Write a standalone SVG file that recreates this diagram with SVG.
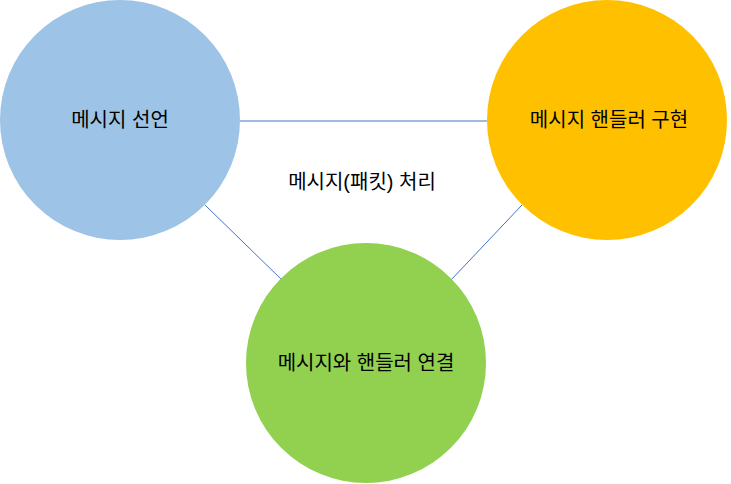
<svg xmlns="http://www.w3.org/2000/svg" width="731" height="484" viewBox="0 0 731 484">
<style>
text{font-family:"Liberation Sans","Noto Sans CJK KR",sans-serif;font-size:20px;fill:#000;text-anchor:middle;dominant-baseline:central}
line{stroke:#4472C4;stroke-width:1}
</style>
<rect width="731" height="484" fill="#fff"/>
<g id="connectors">
<line x1="240" y1="121" x2="487" y2="121"/>
<line x1="205" y1="205" x2="282" y2="280"/>
<line x1="522" y1="205" x2="451" y2="280"/>
</g>
<g id="n1"><circle cx="120" cy="120" r="120" fill="#9DC3E6"/><text x="120" y="120">메시지 선언</text></g>
<g id="n2"><circle cx="607" cy="120" r="120" fill="#FFC000"/><text x="609" y="120">메시지 핸들러 구현</text></g>
<g id="n3"><circle cx="366" cy="363" r="120" fill="#92D050"/><text x="366" y="363">메시지와 핸들러 연결</text></g>
<text x="362" y="182">메시지(패킷) 처리</text>
</svg>
